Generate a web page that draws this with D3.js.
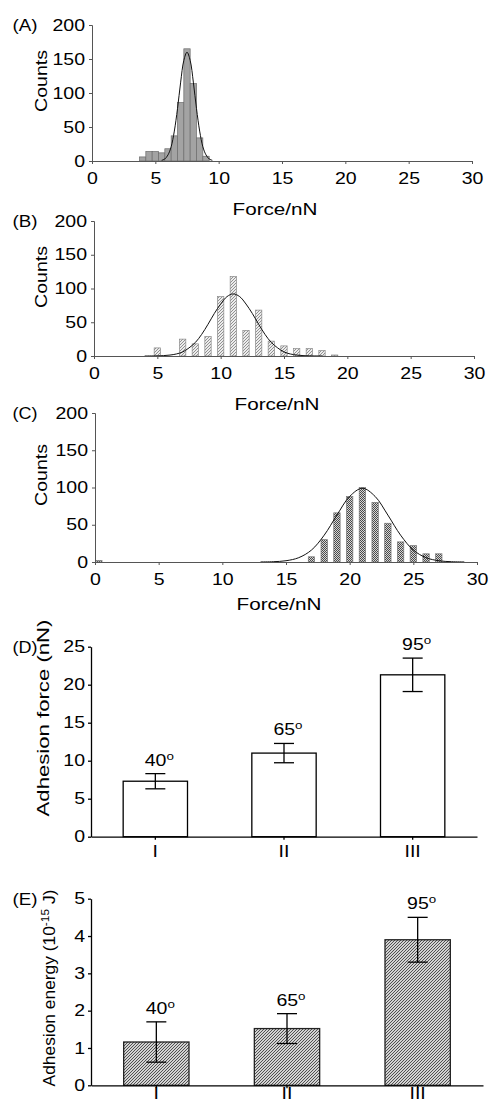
<!DOCTYPE html>
<html>
<head>
<meta charset="utf-8">
<script src="https://cdn.jsdelivr.net/npm/d3@7"></script>
<style>
  * { margin: 0; padding: 0; }
  body { background: #fff; }
  svg text { font-family: "Liberation Sans", Arial, sans-serif; fill: #000; }
</style>
</head>
<body>
<svg id="fig" width="491" height="1104"></svg>
<script>
// ---- data ----
var forceTicks = [0, 5, 10, 15, 20, 25, 30];
var countTicks = [0, 50, 100, 150, 200];

// (A) histogram, bin centres in nN and counts
var binsA = [4.0, 4.5, 5.0, 5.5, 6.0, 6.5, 7.0, 7.5, 8.0, 8.5, 9.0];
var countsA = [6, 14, 14, 12, 18, 37, 86, 165, 114, 34, 7];
var fitXA = [5.5, 5.75, 6, 6.25, 6.5, 6.75, 7, 7.25, 7.5, 7.75, 8, 8.25, 8.5, 8.75, 9, 9.25, 9.5];
var fitYA = [1, 3, 9, 21, 44, 77, 116, 148, 160, 148, 116, 77, 44, 21, 9, 3, 1];

// (B)
var binsB = [5, 7, 8, 9, 10, 11, 12, 13, 14, 15, 16, 17, 18, 19];
var countsB = [12, 25, 18, 29, 88, 118, 38, 68, 22, 15, 11, 11, 8, 1.5];
var fitXB = [4, 5, 5.5, 6, 6.5, 7, 7.5, 8, 8.5, 9, 9.5, 10, 10.5, 11, 11.5, 12, 12.5, 13, 13.5, 14, 14.5, 15, 15.5, 16, 16.5, 17, 18];
var fitYB = [0, 0.2, 0.6, 1.4, 3, 6, 12, 20, 32, 47, 63, 77, 88, 92, 88, 77, 63, 47, 32, 20, 12, 6, 3, 1.4, 0.6, 0.2, 0];

// (C)
var binsC = [0.3, 17, 18, 19, 20, 21, 22, 23, 24, 25, 26, 27];
var countsC = [2, 7, 30, 66, 88, 100, 80, 52, 27, 22, 11, 11];
var fitXC = [13, 14, 15, 16, 17, 18, 19, 20, 21, 22, 23, 24, 25, 26, 27, 28, 29];
var fitYC = [0.1, 0.4, 1.7, 5.8, 16, 36, 63, 88, 99, 88, 63, 36, 16, 5.8, 1.7, 0.4, 0.1];

// (D) and (E) bar charts
var groups = ["I", "II", "III"];
var angles = ["40", "65", "95"];
var forceMean = [7.3, 11.0, 21.3];
var forceErr = [1.0, 1.27, 2.2];
var forceTicksD = [0, 5, 10, 15, 20, 25];
var energyMean = [1.16, 1.52, 3.9];
var energyErr = [0.54, 0.4, 0.6];
var energyTicks = [0, 1, 2, 3, 4, 5];

var svg = d3.select("#fig");
var defs = svg.append("defs");

// fills
var pB = defs.append("pattern").attr("id", "hatchB").attr("patternUnits", "userSpaceOnUse")
  .attr("width", 3).attr("height", 3);
pB.append("rect").attr("width", 3).attr("height", 3).attr("fill", "#ececec");
pB.append("path").attr("d", "M-1,1 L1,-1 M0,3 L3,0 M2,4 L4,2")
  .attr("stroke", "#7a7a7a").attr("stroke-width", 0.8);

var pC = defs.append("pattern").attr("id", "checkC").attr("patternUnits", "userSpaceOnUse")
  .attr("width", 2).attr("height", 2);
pC.append("rect").attr("width", 2).attr("height", 2).attr("fill", "#d6d6d6");
pC.append("rect").attr("width", 1).attr("height", 1).attr("fill", "#4a4a4a");
pC.append("rect").attr("x", 1).attr("y", 1).attr("width", 1).attr("height", 1).attr("fill", "#4a4a4a");

var pE = defs.append("pattern").attr("id", "hatchE").attr("patternUnits", "userSpaceOnUse")
  .attr("width", 3).attr("height", 3);
pE.append("rect").attr("width", 3).attr("height", 3).attr("fill", "#d2d2d2");
pE.append("path").attr("d", "M-1,1 L1,-1 M0,3 L3,0 M2,4 L4,2")
  .attr("stroke", "#505050").attr("stroke-width", 1);

var K = 1.22; // text in the figure is wide

function widen(sel, k) {
  sel.each(function () {
    var t = d3.select(this);
    var x = +t.attr("x") || 0;
    t.attr("x", x / k).attr("transform", "scale(" + k + ",1)");
  });
}

function styleAxis(g, col, sw) {
  g.select(".domain").attr("stroke", col).attr("stroke-width", sw);
  g.selectAll(".tick line").attr("stroke", col).attr("stroke-width", sw);
  g.selectAll(".tick text").attr("font-size", 16).attr("fill", "#000")
    .attr("font-family", "Liberation Sans, Arial, sans-serif");
  widen(g.selectAll(".tick text"), K);
}

// text stretched along its own direction to a measured length
function label(x, y, len, rot, build) {
  var t = svg.append("text").attr("font-size", 16).attr("text-anchor", "middle");
  build(t);
  var k = len / t.node().getComputedTextLength();
  t.attr("transform", "translate(" + x + "," + y + ")" + (rot ? " rotate(-90)" : "") + " scale(" + k + ",1)");
  return t;
}
function plain(s) { return function (t) { t.text(s); }; }

var hists = [
  { tag: "(A)", bins: binsA, counts: countsA, fx: fitXA, fy: fitYA, barW: 0.5,
    x0: 92, x1: 472, yTop: 25, yBot: 161, fill: "#a3a3a3", stroke: "#6c6c6c",
    tickPad: 12, titleY: 215, countsY: 81 },
  { tag: "(B)", bins: binsB, counts: countsB, fx: fitXB, fy: fitYB, barW: 0.5,
    x0: 94, x1: 474, yTop: 221, yBot: 356, fill: "url(#hatchB)", stroke: "#8a8a8a",
    tickPad: 12, titleY: 410, countsY: 277 },
  { tag: "(C)", bins: binsC, counts: countsC, fx: fitXC, fy: fitYC, barW: 0.5,
    x0: 95, x1: 477, yTop: 413, yBot: 562, fill: "url(#checkC)", stroke: "#777",
    tickPad: 12, titleY: 610, countsY: 475 }
];

hists.forEach(function (p) {
  var x = d3.scaleLinear().domain([0, 30]).range([p.x0, p.x1]);
  var y = d3.scaleLinear().domain([0, 200]).range([p.yBot, p.yTop]);
  var g = svg.append("g");

  g.selectAll("rect").data(p.bins).enter().append("rect")
    .attr("x", function (d) { return x(d - p.barW / 2); })
    .attr("width", x(p.barW) - x(0))
    .attr("y", function (d, i) { return y(p.counts[i]); })
    .attr("height", function (d, i) { return y(0) - y(p.counts[i]); })
    .attr("fill", p.fill).attr("stroke", p.stroke).attr("stroke-width", 0.7);

  var pts = p.fx.map(function (v, i) { return [v, p.fy[i]]; });
  g.append("path").datum(pts)
    .attr("d", d3.line().x(function (d) { return x(d[0]); }).y(function (d) { return y(d[1]); })
      .curve(d3.curveCatmullRom))
    .attr("fill", "none").attr("stroke", "#111").attr("stroke-width", 1);

  var ax = svg.append("g").attr("transform", "translate(0," + p.yBot + ")")
    .call(d3.axisBottom(x).tickValues(forceTicks).tickSize(3).tickSizeOuter(3).tickPadding(p.tickPad - 3));
  styleAxis(ax, "#555", 1);
  var ay = svg.append("g").attr("transform", "translate(" + p.x0 + ",0)")
    .call(d3.axisLeft(y).tickValues(countTicks).tickSize(3).tickSizeOuter(3).tickPadding(4));
  styleAxis(ay, "#555", 1);

  label((p.x0 + p.x1) / 2 - 7, p.titleY, 85, false, plain("Force/nN"));
  label(47, p.countsY, 62, true, plain("Counts"));
  label(25, p.yTop + 6, 25, false, plain(p.tag));
});

// ---- bar charts ----
var bars = [
  { tag: "(D)", mean: forceMean, err: forceErr, ticks: forceTicksD, max: 25,
    x0: 91, x1: 477, yTop: 646.7, yBot: 836.7, fill: "#fff", stroke: "#000", catY: 857 },
  { tag: "(E)", mean: energyMean, err: energyErr, ticks: energyTicks, max: 5,
    x0: 91, x1: 483, yTop: 898.7, yBot: 1085.3, fill: "url(#hatchE)", stroke: "#222", catY: 1099 }
];

bars.forEach(function (p) {
  var x = d3.scaleBand().domain(groups).range([p.x0, p.x1]).paddingInner(0.5).paddingOuter(0.25);
  var y = d3.scaleLinear().domain([0, p.max]).range([p.yBot, p.yTop]);
  var g = svg.append("g");

  g.selectAll("rect").data(groups).enter().append("rect")
    .attr("x", function (d) { return x(d); })
    .attr("width", x.bandwidth())
    .attr("y", function (d, i) { return y(p.mean[i]); })
    .attr("height", function (d, i) { return y(0) - y(p.mean[i]); })
    .attr("fill", p.fill).attr("stroke", p.stroke).attr("stroke-width", 1.3);

  var eb = g.selectAll("g.err").data(groups).enter().append("g").attr("class", "err");
  eb.append("line")
    .attr("x1", function (d) { return x(d) + x.bandwidth() / 2; })
    .attr("x2", function (d) { return x(d) + x.bandwidth() / 2; })
    .attr("y1", function (d, i) { return y(p.mean[i] + p.err[i]); })
    .attr("y2", function (d, i) { return y(p.mean[i] - p.err[i]); });
  [1, -1].forEach(function (s) {
    eb.append("line")
      .attr("x1", function (d) { return x(d) + x.bandwidth() / 2 - 10; })
      .attr("x2", function (d) { return x(d) + x.bandwidth() / 2 + 10; })
      .attr("y1", function (d, i) { return y(p.mean[i] + s * p.err[i]); })
      .attr("y2", function (d, i) { return y(p.mean[i] + s * p.err[i]); });
  });
  eb.selectAll("line").attr("stroke", "#000").attr("stroke-width", 1.3);

  // contact angle labels
  var al = g.selectAll("text.ang").data(groups).enter().append("text").attr("class", "ang")
    .attr("font-size", 16).attr("text-anchor", "middle")
    .attr("transform", function (d, i) {
      return "translate(" + (x(d) + x.bandwidth() / 2 + 4) + "," + (y(p.mean[i] + p.err[i]) - 8) + ") scale(" + K + ",1)";
    });
  al.append("tspan").text(function (d, i) { return angles[i]; });
  al.append("tspan").attr("font-size", 11).attr("dy", -6).text("o");

  var ax = svg.append("g").attr("transform", "translate(0," + p.yBot + ")")
    .call(d3.axisBottom(x).tickSize(3).tickSizeOuter(0).tickPadding(p.catY - p.yBot - 14));
  styleAxis(ax, "#000", 1.3);
  var ay = svg.append("g").attr("transform", "translate(" + p.x0 + ",0)")
    .call(d3.axisLeft(y).tickValues(p.ticks).tickFormat(d3.format("d")).tickSize(3).tickSizeOuter(0).tickPadding(3));
  styleAxis(ay, "#000", 1.3);

  label(25, p.yTop + 6, 25, false, plain(p.tag));
});

label(49, 718, 197, true, plain("Adhesion force (nN)"));
label(55, 988, 197, true, function (t) {
  t.append("tspan").text("Adhesion energy (10");
  t.append("tspan").attr("font-size", 11).attr("dy", -6).text("-15");
  t.append("tspan").attr("dy", 6).text(" J)");
});
</script>
</body>
</html>
